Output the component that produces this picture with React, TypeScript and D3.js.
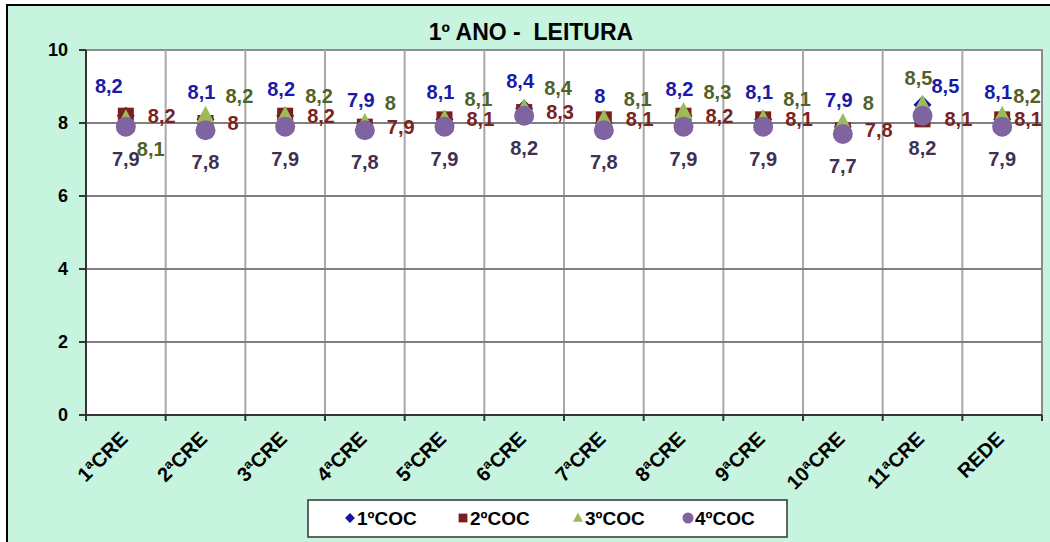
import React from "react";
import * as d3 from "d3";

const categories = ["1ªCRE", "2ªCRE", "3ªCRE", "4ªCRE", "5ªCRE", "6ªCRE", "7ªCRE", "8ªCRE", "9ªCRE", "10ªCRE", "11ªCRE", "REDE"];
const seriesNames = ["1ºCOC", "2ºCOC", "3ºCOC", "4ºCOC"];
const coc1 = [8.2, 8.1, 8.2, 7.9, 8.1, 8.4, 8, 8.2, 8.1, 7.9, 8.5, 8.1];
const coc2 = [8.2, 8, 8.2, 7.9, 8.1, 8.3, 8.1, 8.2, 8.1, 7.8, 8.1, 8.1];
const coc3 = [8.1, 8.2, 8.2, 8, 8.1, 8.4, 8.1, 8.3, 8.1, 8, 8.5, 8.2];
const coc4 = [7.9, 7.8, 7.9, 7.8, 7.9, 8.2, 7.8, 7.9, 7.9, 7.7, 8.2, 7.9];
const yTicks = [0, 2, 4, 6, 8, 10];

const W = 1050;
const H = 542;
const plot = { left: 86, right: 1042, top: 50, bottom: 415 };

// marker + label style per series (label offset relative to the marker)
const styles = [
  { shape: "diamond", fill: "#1616a0", text: "#1a1aaa", dx: -4, dy: -27, anchor: "middle" },
  { shape: "square", fill: "#7a1f1f", text: "#7a2222", dx: 22, dy: 0, anchor: "start" },
  { shape: "triangle", fill: "#9bbb59", text: "#4f6228", dx: 20, dy: -20, anchor: "start" },
  { shape: "circle", fill: "#8064a2", text: "#3f3151", dx: 0, dy: 32, anchor: "middle" },
];

// labels that were dragged by hand in the original
const labelMoves: Record<string, { dx: number; dy: number; anchor: string }> = {
  "0-0": { dx: -17, dy: -30, anchor: "middle" },
  "2-0": { dx: 11, dy: 30, anchor: "start" },
  "2-10": { dx: -4, dy: -27, anchor: "middle" },
  "0-10": { dx: 9, dy: -19, anchor: "start" },
  "1-11": { dx: 12, dy: 0, anchor: "start" },
  "2-11": { dx: 11, dy: -20, anchor: "start" },
};

const fmt = (v: number) => String(v).replace(".", ",");

function Marker({ shape, fill, x, y, s = 1 }: { shape: string; fill: string; x: number; y: number; s?: number }) {
  if (shape === "circle") return <circle cx={x} cy={y} r={10 * s} fill={fill} />;
  if (shape === "square") return <rect x={x - 8 * s} y={y - 8 * s} width={16 * s} height={16 * s} fill={fill} />;
  if (shape === "triangle")
    return <path d={`M${x},${y - 10 * s}L${x + 9 * s},${y + 7 * s}L${x - 9 * s},${y + 7 * s}Z`} fill={fill} />;
  return <path d={`M${x},${y - 9 * s}L${x + 9 * s},${y}L${x},${y + 9 * s}L${x - 9 * s},${y}Z`} fill={fill} />;
}

export default function App() {
  const series = [coc1, coc2, coc3, coc4];
  const x = d3.scaleBand().domain(categories).range([plot.left, plot.right]);
  const y = d3.scaleLinear().domain([0, 10]).range([plot.bottom, plot.top]);
  const cx = (c: string) => (x(c) as number) + x.bandwidth() / 2;
  const bounds = d3.range(categories.length + 1).map((i) => plot.left + i * x.bandwidth());

  const legendItems = [350, 463, 578, 688];

  return (
    <svg width={W} height={H} style={{ position: "absolute", left: 0, top: 0, fontFamily: "Arial, 'Liberation Sans', sans-serif" }}>
      <rect x={0} y={0} width={W} height={H} fill="#fff" />
      <rect x={7} y={5} width={W + 20} height={H + 20} fill="#c6f4df" stroke="#000" strokeWidth={2} />
      <text x={531} y={40} textAnchor="middle" fontSize={23} fontWeight="bold" style={{ whiteSpace: "pre" }}>
        {"1º ANO -  LEITURA"}
      </text>

      {/* plot area */}
      <rect x={plot.left} y={plot.top} width={plot.right - plot.left} height={plot.bottom - plot.top} fill="#fff" stroke="#8c8c8c" strokeWidth={2} />
      {bounds.slice(1, -1).map((b, i) => (
        <line key={"v" + i} x1={b} x2={b} y1={plot.top} y2={plot.bottom} stroke="#a8a8a8" strokeWidth={2} />
      ))}
      {yTicks.slice(1, -1).map((t) => (
        <line key={"h" + t} x1={plot.left} x2={plot.right} y1={y(t)} y2={y(t)} stroke="#7f7f7f" strokeWidth={2} />
      ))}

      {/* axes */}
      <line x1={plot.left} x2={plot.left} y1={plot.top} y2={plot.bottom} stroke="#333" strokeWidth={2} />
      <line x1={plot.left} x2={plot.right} y1={plot.bottom} y2={plot.bottom} stroke="#333" strokeWidth={2} />
      {yTicks.map((t) => (
        <g key={"yt" + t}>
          <line x1={plot.left - 7} x2={plot.left} y1={y(t)} y2={y(t)} stroke="#333" strokeWidth={2} />
          <text x={68} y={y(t)} dy="0.35em" textAnchor="end" fontSize={18} fontWeight="bold">
            {t}
          </text>
        </g>
      ))}
      {bounds.map((b, i) => (
        <line key={"xt" + i} x1={b} x2={b} y1={plot.bottom} y2={plot.bottom + 6} stroke="#333" strokeWidth={2} />
      ))}
      {categories.map((c) => (
        <text key={c} transform={`translate(${cx(c) + 3},${plot.bottom + 25}) rotate(-45)`} textAnchor="end" fontSize={20} fontWeight="bold">
          {c}
        </text>
      ))}

      {/* markers */}
      {series.map((vals, si) => (
        <g key={"s" + si}>
          {vals.map((v, i) => (
            <Marker key={i} shape={styles[si].shape} fill={styles[si].fill} x={cx(categories[i])} y={y(v)} />
          ))}
        </g>
      ))}

      {/* data labels */}
      {series.map((vals, si) => (
        <g key={"l" + si}>
          {vals.map((v, i) => {
            const m = labelMoves[`${si}-${i}`] || styles[si];
            return (
              <text
                key={i}
                x={cx(categories[i]) + m.dx}
                y={y(v) + m.dy}
                dy="0.35em"
                textAnchor={m.anchor}
                fontSize={20}
                fontWeight="bold"
                fill={styles[si].text}
              >
                {fmt(v)}
              </text>
            );
          })}
        </g>
      ))}

      {/* legend */}
      <rect x={308} y={500} width={479} height={37} fill="#fff" stroke="#333" strokeWidth={1.5} />
      {seriesNames.map((n, i) => (
        <g key={n}>
          <Marker shape={styles[i].shape} fill={styles[i].fill} x={legendItems[i]} y={518} s={0.55} />
          <text x={legendItems[i] + 7} y={518} dy="0.35em" fontSize={19} fontWeight="bold">
            {n}
          </text>
        </g>
      ))}
    </svg>
  );
}
